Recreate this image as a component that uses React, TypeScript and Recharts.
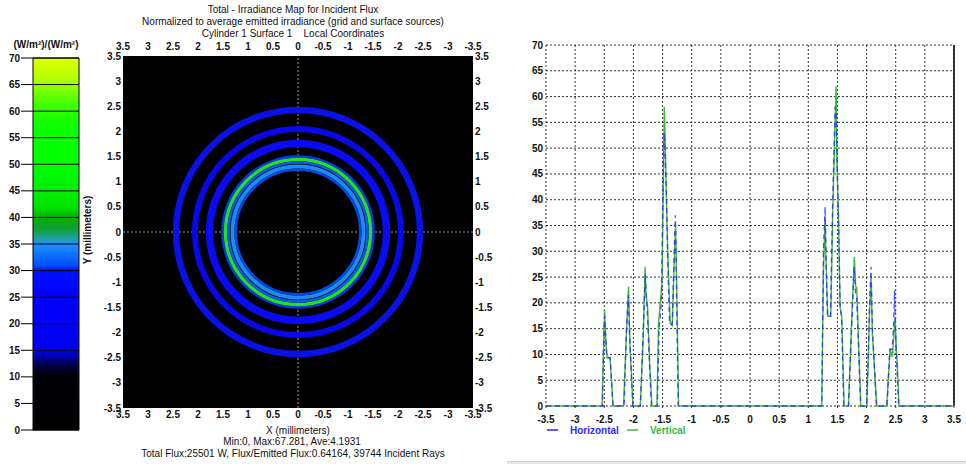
import React from 'react';
import {
  BarChart, Bar, ScatterChart, Scatter, LineChart, Line, XAxis, YAxis,
  CartesianGrid, ReferenceLine,
} from 'recharts';

// colour scale (left bar)
const colorbarTicks = [0, 5, 10, 15, 20, 25, 30, 35, 40, 45, 50, 55, 60, 65, 70];
const colorStopValues = [0, 10, 12, 15, 25, 30, 31, 35, 36, 38, 40, 42, 50, 58, 62, 66, 70];
const colorStopColors = ['#000000', '#000008', '#00003a', '#0000f0', '#0000ff', '#0010ff', '#0050ff', '#1e90ff',
  '#20a0a0', '#10a030', '#00b000', '#00e400', '#00ff00', '#10ff00', '#50ff00', '#b0ff00', '#e0ff00'];
const colorbarMax = 70;

// irradiance map rings (mm)
const mapTicks = [3.5, 3, 2.5, 2, 1.5, 1, 0.5, 0, -0.5, -1, -1.5, -2, -2.5, -3, -3.5];
const ringRadius = [2.44, 2.06, 1.77, 1.51, 1.45, 1.39, 1.31, 1.245];
const ringWidth = [0.13, 0.12, 0.15, 0.05, 0.07, 0.05, 0.08, 0.05];
const ringColor = ['#0a12e8', '#0808ea', '#0a0af5', '#0838f5', '#26e020', '#0a5af0', '#1a8cf5', '#0848e0'];

// profiles
const profileTicksX = [-3.5, -3, -2.5, -2, -1.5, -1, -0.5, 0, 0.5, 1, 1.5, 2, 2.5, 3, 3.5];
const profileTicksY = [0, 5, 10, 15, 20, 25, 30, 35, 40, 45, 50, 55, 60, 65, 70];

const horizontalX = [-3.5, -2.53, -2.51, -2.494, -2.47, -2.455, -2.4, -2.35,
  -2.16, -2.12, -2.09, -2.06, -2.01,
  -1.88, -1.83, -1.797, -1.78, -1.76, -1.72, -1.69,
  -1.59, -1.56, -1.52, -1.49, -1.474, -1.455, -1.437, -1.41, -1.38, -1.334, -1.3, -1.28, -1.265, -1.25, -1.23,
  1.231, 1.26, 1.289, 1.305, 1.33, 1.38, 1.42, 1.46, 1.48, 1.5, 1.517, 1.546, 1.57, 1.61,
  1.69, 1.75, 1.785, 1.81, 1.83, 1.9,
  2.003, 2.03, 2.05, 2.077, 2.1, 2.17,
  2.35, 2.4, 2.44, 2.465, 2.48, 2.5, 2.52, 2.55, 3.5];
const horizontalY = [0, 0, 13, 17.5, 12, 9.5, 9.3, 0,
  0, 15, 21.5, 12, 0,
  0, 15, 25.5, 21, 18, 7, 0,
  0, 15, 20, 45, 53, 48, 42, 28, 16, 15.8, 30, 37, 27, 13.4, 0,
  0, 30, 38.6, 28, 17.4, 17.4, 40, 58, 56, 45, 37, 19, 17.5, 0,
  0, 17, 27, 22, 21, 0,
  0, 10, 19, 27, 15, 0,
  0, 11, 11, 16, 22.4, 13, 8, 0, 0];

const verticalX = [-3.5, -2.54, -2.51, -2.494, -2.475, -2.46, -2.45, -2.4, -2.35,
  -2.17, -2.12, -2.083, -2.06, -2.008,
  -1.883, -1.83, -1.8, -1.785, -1.757, -1.72, -1.683,
  -1.597, -1.569, -1.511, -1.49, -1.471, -1.455, -1.437, -1.409, -1.369, -1.334, -1.3, -1.277, -1.26, -1.243, -1.226,
  1.231, 1.26, 1.289, 1.3, 1.334, 1.386, 1.42, 1.45, 1.477, 1.49, 1.517, 1.546, 1.574, 1.614,
  1.689, 1.75, 1.791, 1.814, 1.831, 1.9,
  2.003, 2.031, 2.05, 2.077, 2.1, 2.174,
  2.346, 2.403, 2.443, 2.47, 2.489, 2.51, 2.529, 2.557, 3.5];
const verticalY = [0, 0, 12, 18.6, 13, 10.2, 9.3, 9.3, 0,
  0, 14, 23.1, 12, 0,
  0, 14, 27, 22, 19.2, 8, 0,
  0, 16, 23.7, 40, 58, 52, 41.8, 29, 16, 15.6, 28, 35, 25, 13.4, 0,
  0, 26, 36.7, 30, 17.4, 17.4, 38, 51, 62, 48, 37, 19.2, 17.3, 0,
  0, 18, 28.9, 23.1, 23, 0,
  0, 10, 18, 25, 14, 0,
  0, 11.1, 9.5, 14, 17, 11, 7.6, 0, 0];

const legendNames = ['Horizontal', 'Vertical'];
const legendColors = ['#2a2aff', '#3cb83c'];

const FONT = '"Liberation Sans", Arial, sans-serif';
const tickStyle = { fontSize: 10, fontWeight: 'bold', fill: '#111', fontFamily: FONT };

const horizontalData = horizontalX.map((x, i) => ({ x, y: horizontalY[i] }));
const verticalData = verticalX.map((x, i) => ({ x, y: verticalY[i] }));

// draws a ring from the scaled centre / inner / outer points of a scatter "line"
const ringLine = (color: string) => (p: any) => {
  const [c, a, b] = p.points;
  const r1 = Math.abs(a.x - c.x);
  const r2 = Math.abs(b.x - c.x);
  return <circle cx={c.x} cy={c.y} r={(r1 + r2) / 2} fill="none" stroke={color} strokeWidth={Math.abs(r2 - r1)} />;
};

const ColorBar = () => (
  <BarChart width={90} height={464} data={[{ name: 'scale', v: colorbarMax }]}
    margin={{ top: 58, right: 11, bottom: 34, left: 0 }} barCategoryGap={0}>
    <defs>
      <linearGradient id="cbGrad" x1="0" y1="1" x2="0" y2="0">
        {colorStopValues.map((v, i) => (
          <stop key={v} offset={v / colorbarMax} stopColor={colorStopColors[i]} />
        ))}
      </linearGradient>
    </defs>
    <XAxis dataKey="name" hide />
    <YAxis domain={[0, colorbarMax]} ticks={colorbarTicks} interval={0} width={33} tickSize={12} tickMargin={1}
      axisLine={false} tickLine={{ stroke: '#000' }} tick={tickStyle} />
    <Bar dataKey="v" fill="url(#cbGrad)" stroke="#000" strokeWidth={1} isAnimationActive={false} />
    {colorbarTicks.map((t) => (
      <ReferenceLine key={t} y={t} stroke="#000" strokeWidth={1} />
    ))}
  </BarChart>
);

const IrradianceMap = () => (
  <ScatterChart width={430} height={464} margin={{ top: 36, right: 17, bottom: 36, left: 3 }}>
    <CartesianGrid xAxisId="b" yAxisId="l" fill="#000" fillOpacity={1} horizontal={false} vertical={false} />
    <XAxis xAxisId="b" type="number" dataKey="x" domain={[-3.5, 3.5]} ticks={mapTicks} interval={0} reversed
      orientation="bottom" height={20} tickSize={0} tickMargin={3} axisLine={false} tick={tickStyle} allowDataOverflow />
    <XAxis xAxisId="t" type="number" dataKey="x" domain={[-3.5, 3.5]} ticks={mapTicks} interval={0} reversed
      orientation="top" height={20} tickSize={0} tickMargin={6} axisLine={false} tick={tickStyle} allowDataOverflow />
    <YAxis yAxisId="l" type="number" dataKey="y" domain={[-3.5, 3.5]} ticks={mapTicks} interval={0}
      orientation="left" width={30} tickSize={0} tickMargin={2} axisLine={false} tick={tickStyle} allowDataOverflow />
    <YAxis yAxisId="r" type="number" dataKey="y" domain={[-3.5, 3.5]} ticks={mapTicks} interval={0}
      orientation="right" width={30} tickSize={0} tickMargin={2} axisLine={false} tick={tickStyle} allowDataOverflow />
    {ringRadius.map((r, i) => (
      <Scatter key={i} xAxisId="b" yAxisId="l"
        data={[{ x: 0, y: 0 }, { x: r - ringWidth[i] / 2, y: 0 }, { x: r + ringWidth[i] / 2, y: 0 }]}
        shape={() => <g />} line={ringLine(ringColor[i])} fill={ringColor[i]} isAnimationActive={false} />
    ))}
    <ReferenceLine xAxisId="b" yAxisId="l" x={0} stroke="#9a9a9a" strokeDasharray="2 2" />
    <ReferenceLine xAxisId="b" yAxisId="l" y={0} stroke="#9a9a9a" strokeDasharray="2 2" />
  </ScatterChart>
);

const ProfileChart = () => (
  <LineChart width={476} height={464} margin={{ top: 45, right: 12, bottom: 38, left: 16 }}>
    <CartesianGrid stroke="#333" strokeDasharray="2 2" />
    <XAxis type="number" dataKey="x" domain={[-3.5, 3.5]} ticks={profileTicksX} interval={0} height={20}
      tickSize={2} tickMargin={8} axisLine={false} tickLine={{ stroke: '#333' }} tick={tickStyle} allowDuplicatedCategory={false} />
    <YAxis type="number" domain={[0, 70]} ticks={profileTicksY} interval={0} width={40}
      tickSize={0} tickMargin={3} axisLine={false} tick={tickStyle} />
    <ReferenceLine x={3.5} stroke="#000" strokeWidth={1.5} />
    <Line data={verticalData} dataKey="y" name={legendNames[1]} type="linear" stroke={legendColors[1]}
      strokeWidth={1.4} dot={false} isAnimationActive={false} />
    <Line data={horizontalData} dataKey="y" name={legendNames[0]} type="linear" stroke={legendColors[0]}
      strokeOpacity={0.8} strokeDasharray="5 4" strokeWidth={1.4} dot={false} isAnimationActive={false} />
  </LineChart>
);

export default function App() {
  return (
    <div style={{ position: 'fixed', left: 0, top: 0, width: 966, height: 464, background: '#fff', overflow: 'hidden', fontFamily: FONT }}>
      <div style={{ position: 'absolute', left: 0, top: 0 }}><ColorBar /></div>
      <div style={{ position: 'absolute', left: 90, top: 0 }}><IrradianceMap /></div>
      <div style={{ position: 'absolute', left: 490, top: 0 }}><ProfileChart /></div>

      <svg width={966} height={464} style={{ position: 'absolute', left: 0, top: 0, pointerEvents: 'none' }}
        fontFamily={FONT} fill="#111">
        <text x={293} y={13} fontSize={10} textAnchor="middle">Total - Irradiance Map for Incident Flux</text>
        <text x={293} y={25} fontSize={10} textAnchor="middle">Normalized to average emitted irradiance (grid and surface sources)</text>
        <text x={293} y={37} fontSize={10} textAnchor="middle" style={{ whiteSpace: 'pre' }}>{'Cylinder 1 Surface 1    Local Coordinates'}</text>
        <text x={46} y={48} fontSize={10} fontWeight="bold" textAnchor="middle">(W/m²)/(W/m²)</text>
        <text x={0} y={0} fontSize={10} fontWeight="bold" textAnchor="middle" transform="translate(91 230) rotate(-90)">Y (millimeters)</text>
        <text x={298} y={434} fontSize={10} textAnchor="middle">X (millimeters)</text>
        <text x={292} y={445} fontSize={10} textAnchor="middle">Min:0, Max:67.281, Ave:4.1931</text>
        <text x={293} y={457} fontSize={10} textAnchor="middle">Total Flux:25501 W, Flux/Emitted Flux:0.64164, 39744 Incident Rays</text>
        {legendNames.map((n, i) => (
          <g key={n}>
            <line x1={547 + i * 80} x2={558 + i * 80} y1={430} y2={430} stroke={legendColors[i]} strokeWidth={1.5} />
            <text x={570 + i * 80} y={434} fontSize={10} fontWeight="bold" fill={legendColors[i]}>{n}</text>
          </g>
        ))}
      </svg>
      <div style={{ position: 'absolute', left: 507, top: 461, width: 459, height: 3, background: '#e6e6e6', borderTop: '1px solid #d4d4d4' }} />
    </div>
  );
}
